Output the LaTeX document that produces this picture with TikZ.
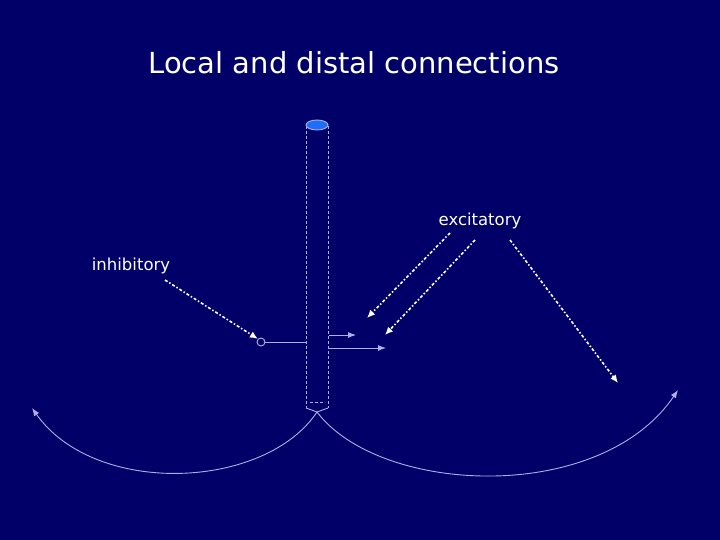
\documentclass[tikz,border=0pt]{standalone}
\usepackage{fontspec}
\setmainfont{DejaVu Sans}
\usetikzlibrary{arrows.meta}
\definecolor{navy}{RGB}{0,0,104}
\definecolor{lav}{RGB}{176,176,232}
\definecolor{tipblue}{RGB}{30,110,250}

\begin{document}
\begin{tikzpicture}[x=1pt,y=-1pt,
	lbl/.style={text=white,font=\fontsize{16.5}{19}\selectfont},
	dotarrow/.style={white,line width=1.6pt,dash pattern=on 3pt off 2pt on 1.5pt off 2pt,-{Latex[length=8pt,width=7pt]}},
	shaft/.style={lav,densely dashed,line width=0.9pt},
	syn/.style={lav,line width=0.9pt,-{Latex[length=8pt,width=6pt]}}]
		\fill[navy] (0,0) rectangle (720,540);
		\node[text=white,font=\fontsize{29}{34}\selectfont] (title) at (354,63) {Local and distal connections};
		% dendrite shaft
		\draw[shaft] (306,126) -- (306,408);
		\draw[shaft] (328,126) -- (328,408);
		\draw[shaft] (310,402) -- (325,402);
		\draw[lav,line width=0.9pt,fill=tipblue] (317,125) ellipse (11pt and 5pt);
		\coordinate (base) at (317,412);
		\draw[lav,line width=0.9pt] (306,408) -- (base) -- (328,408);
		\coordinate (farleft) at (32,408);
		\coordinate (farright) at (678,390);
		\draw[syn] (base) .. controls (265,490) and (95,497) .. (farleft);
		\draw[syn] (base) .. controls (380,495) and (600,505) .. (farright);
		% synapses on the shaft
		\node[draw=lav,line width=0.9pt,circle,inner sep=0pt,minimum size=8pt] (inh) at (261,342) {};
		\coordinate (inhroot) at (306,342);
		\draw[lav,line width=0.9pt] (inhroot) -- (inh);
		\coordinate (exroot1) at (329,335);
		\coordinate (exroot2) at (329,348);
		\coordinate (exend1) at (356,335);
		\coordinate (exend2) at (386,348);
		\draw[syn] (exroot1) -- (exend1);
		\draw[syn] (exroot2) -- (exend2);
		% labels
		\node[lbl] (inhibitory) at (131,266) {inhibitory};
		\node[lbl] (excitatory) at (480,221) {excitatory};
		\coordinate (e1) at (367,318);
		\coordinate (e2) at (385,335);
		\coordinate (e3) at (618,383);
		\draw[dotarrow] (165,280) -- (inh.north west);
		\draw[dotarrow] (450,233) -- (e1);
		\draw[dotarrow] (475,240) -- (e2);
		\draw[dotarrow] (510,240) -- (e3);
\end{tikzpicture}
\end{document}
